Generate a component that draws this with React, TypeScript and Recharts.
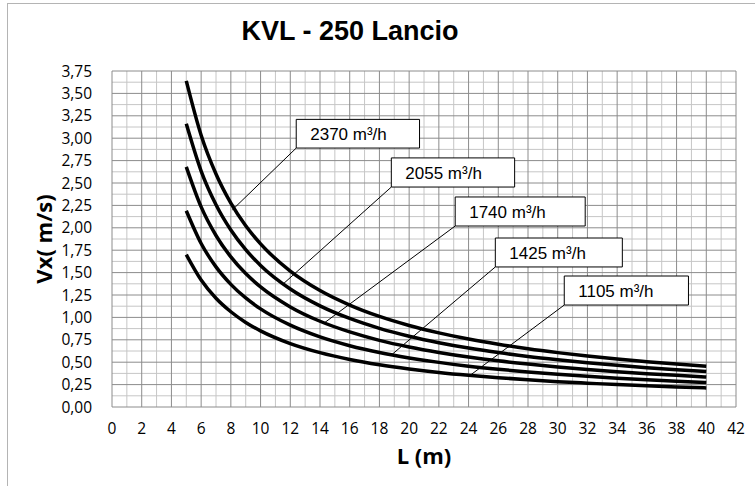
import React from "react";
import {
  LineChart,
  Line,
  XAxis,
  YAxis,
  CartesianGrid,
  ReferenceArea,
  ReferenceLine,
} from "recharts";

// L (m) sample points along the curves
const L_VALUES = [5, 6, 7, 8, 9, 10, 12, 14, 16, 18, 20, 22, 24, 26, 28, 30, 32, 34, 36, 38, 40];

// Vx (m/s)
const Q2370 = [3.64, 3.033, 2.6, 2.275, 2.022, 1.82, 1.517, 1.3, 1.138, 1.011, 0.91, 0.827, 0.758, 0.7, 0.65, 0.607, 0.569, 0.535, 0.506, 0.479, 0.455];
const Q2055 = [3.16, 2.633, 2.257, 1.975, 1.756, 1.58, 1.317, 1.129, 0.988, 0.878, 0.79, 0.718, 0.658, 0.608, 0.564, 0.527, 0.494, 0.465, 0.439, 0.416, 0.395];
const Q1740 = [2.68, 2.233, 1.914, 1.675, 1.489, 1.34, 1.117, 0.957, 0.838, 0.744, 0.67, 0.609, 0.558, 0.515, 0.479, 0.447, 0.419, 0.394, 0.372, 0.353, 0.335];
const Q1425 = [2.19, 1.825, 1.564, 1.369, 1.217, 1.095, 0.913, 0.782, 0.684, 0.608, 0.548, 0.498, 0.456, 0.421, 0.391, 0.365, 0.342, 0.322, 0.304, 0.288, 0.274];
const Q1105 = [1.7, 1.417, 1.214, 1.063, 0.944, 0.85, 0.708, 0.607, 0.531, 0.472, 0.425, 0.386, 0.354, 0.327, 0.304, 0.283, 0.266, 0.25, 0.236, 0.224, 0.213];

const SERIES = ["q2370", "q2055", "q1740", "q1425", "q1105"];

const X_TICKS = [0, 2, 4, 6, 8, 10, 12, 14, 16, 18, 20, 22, 24, 26, 28, 30, 32, 34, 36, 38, 40, 42];
const X_MINOR = [1, 3, 5, 7, 9, 11, 13, 15, 17, 19, 21, 23, 25, 27, 29, 31, 33, 35, 37, 39, 41];
const Y_TICKS = [0, 0.25, 0.5, 0.75, 1, 1.25, 1.5, 1.75, 2, 2.25, 2.5, 2.75, 3, 3.25, 3.5, 3.75];
const Y_MINOR = [0.125, 0.375, 0.625, 0.875, 1.125, 1.375, 1.625, 1.875, 2.125, 2.375, 2.625, 2.875, 3.125, 3.375, 3.625];

// callout boxes (data coords) and where their leader lines touch the curves
const CALLOUTS = [
  { text: "2370 m³/h", x1: 12.4, x2: 20.7, y1: 2.89, y2: 3.21, to: { x: 8.1, y: 2.2 } },
  { text: "2055 m³/h", x1: 18.8, x2: 27.1, y1: 2.455, y2: 2.78, to: { x: 11.5, y: 1.37 } },
  { text: "1740 m³/h", x1: 23.1, x2: 31.85, y1: 2.02, y2: 2.344, to: { x: 14.3, y: 0.94 } },
  { text: "1425 m³/h", x1: 25.8, x2: 34.35, y1: 1.563, y2: 1.886, to: { x: 18.8, y: 0.58 } },
  { text: "1105 m³/h", x1: 30.44, x2: 38.8, y1: 1.138, y2: 1.462, to: { x: 24.1, y: 0.353 } },
];

const data = L_VALUES.map((l, i) => ({
  L: l,
  q2370: Q2370[i],
  q2055: Q2055[i],
  q1740: Q1740[i],
  q1425: Q1425[i],
  q1105: Q1105[i],
}));

const tickFont = { fontFamily: "'Open Sans', sans-serif", fontSize: 15.5, fill: "#000" };
const axisTitle = { fontFamily: "'Open Sans', sans-serif", fontSize: 22, fontWeight: 700, fill: "#000" };

export default function App() {
  return (
    <div
      style={{
        position: "absolute",
        left: 0,
        top: 0,
        width: 755,
        height: 486,
        background: "#fff",
      }}
    >
      <div
        style={{
          position: "absolute",
          left: 7,
          top: 3,
          width: 748,
          height: 483,
          borderLeft: "1px solid #b4b4b4",
          borderTop: "1px solid #b4b4b4",
          boxSizing: "border-box",
        }}
      />
      <div
        style={{
          position: "absolute",
          left: 0,
          width: 700,
          top: 16,
          textAlign: "center",
          fontFamily: "'Liberation Sans', Arial, sans-serif",
          fontWeight: 700,
          fontSize: 27,
          color: "#000",
        }}
      >
        KVL - 250 Lancio
      </div>
      <LineChart
        width={755}
        height={486}
        data={data}
        margin={{ top: 71, right: 19, bottom: 29, left: 0 }}
        style={{ position: "absolute", left: 0, top: 0 }}
      >
        <CartesianGrid
          horizontalValues={Y_MINOR}
          verticalValues={X_MINOR}
          stroke="#c6c6c6"
          strokeWidth={1}
        />
        <CartesianGrid
          horizontalValues={Y_TICKS}
          verticalValues={X_TICKS}
          stroke="#8c8c8c"
          strokeWidth={1}
        />
        <XAxis
          dataKey="L"
          type="number"
          domain={[0, 42]}
          ticks={X_TICKS}
          interval={0}
          axisLine={false}
          tickLine={false}
          tickSize={0}
          tickMargin={16}
          height={50}
          tick={tickFont}
          label={{ value: "L (m)", position: "bottom", offset: -9, style: axisTitle }}
        />
        <YAxis
          type="number"
          domain={[0, 3.75]}
          ticks={Y_TICKS}
          interval={0}
          axisLine={false}
          tickLine={false}
          tickSize={0}
          tickMargin={20}
          width={112}
          tick={tickFont}
          tickFormatter={(v: number) => v.toFixed(2).replace(".", ",")}
          label={{
            value: "Vx( m/s)",
            angle: -90,
            position: "insideLeft",
            offset: 44,
            style: { ...axisTitle, textAnchor: "middle" },
          }}
        />
        {SERIES.map((key) => (
          <Line
            key={key}
            dataKey={key}
            type="monotone"
            stroke="#000"
            strokeWidth={3.5}
            dot={false}
            isAnimationActive={false}
          />
        ))}
        {CALLOUTS.map((c) => (
          <ReferenceLine
            key={"l" + c.text}
            segment={[c.to, { x: c.x1, y: c.y1 }]}
            stroke="#000"
            strokeWidth={1}
            ifOverflow="visible"
          />
        ))}
        {CALLOUTS.map((c) => (
          <ReferenceArea
            key={"b" + c.text}
            x1={c.x1}
            x2={c.x2}
            y1={c.y1}
            y2={c.y2}
            fill="#fff"
            fillOpacity={1}
            stroke="#000"
            strokeWidth={1}
            ifOverflow="visible"
            label={{
              value: c.text,
              position: "insideLeft",
              offset: 14,
              fill: "#000",
              fontSize: 17,
              fontFamily: "'Liberation Sans', Arial, sans-serif",
            }}
          />
        ))}
      </LineChart>
    </div>
  );
}
